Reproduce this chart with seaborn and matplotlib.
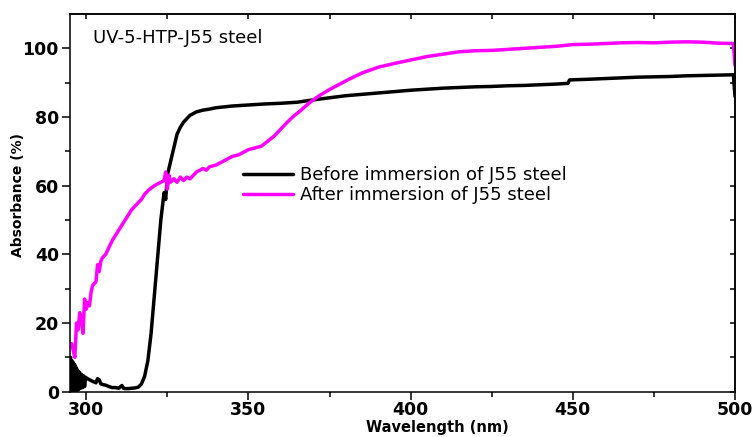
import numpy as np
import pandas as pd
import matplotlib
matplotlib.use("Agg")
import matplotlib.pyplot as plt
import seaborn as sns

# ---------------- data ----------------
before_x = [295.2, 295.4, 295.6, 295.8, 296.0, 296.2, 296.4, 296.6, 296.8, 297.0,
            297.2, 297.4, 297.6, 297.8, 298.0, 298.3, 298.6, 298.9, 299.2, 299.5,
            299.8, 300.2, 301, 302, 303, 303.5, 304, 304.5, 305, 306, 307, 308, 309,
            310, 311, 311.5, 312, 313, 314, 315, 316, 317, 318, 319, 320, 321, 322,
            323, 324, 324.5, 325, 326, 327, 328, 329, 330, 331, 332, 334, 336, 338,
            340, 345, 350, 355, 360, 365, 370, 375, 380, 385, 390, 395, 400, 405,
            410, 415, 420, 425, 430, 435, 440, 445, 448.5, 449, 455, 460, 465, 470,
            475, 480, 485, 490, 495, 499.5, 500]
before_y = [10, 0.5, 9, 0.3, 8.5, 0.3, 8, 0.5, 7.2, 0.5,
            6.5, 0.5, 6, 0.8, 5.5, 1, 5, 1.2, 4.6, 1.5,
            4.2, 3.9, 3.5, 3.0, 2.6, 3.8, 3.5, 2.3, 2.1, 1.9, 1.5, 1.2, 1.2,
            1.0, 1.8, 1.0, 0.9, 0.9, 1.0, 1.1, 1.3, 2.2, 4.5, 9, 17, 28, 39,
            50, 58, 56, 63, 67, 71, 75, 77, 78.5, 79.5, 80.5, 81.5, 82, 82.3,
            82.7, 83.2, 83.5, 83.8, 84, 84.3, 85, 85.6, 86.2, 86.6, 87, 87.4, 87.8, 88.1,
            88.4, 88.6, 88.8, 88.9, 89.1, 89.2, 89.4, 89.6, 89.8, 90.8, 91, 91.2, 91.4, 91.6,
            91.7, 91.8, 92, 92.1, 92.2, 92.3, 86]

after_x = [295.5, 296, 296.5, 297, 297.5, 298, 298.5, 299, 299.5, 300, 300.5, 301,
           301.5, 302, 303, 303.5, 304, 304.5, 305, 306, 307, 308, 309, 310, 311,
           312, 313, 314, 315, 316, 317, 318, 319, 320, 321, 322, 323, 324, 324.5,
           325, 325.5, 326, 327, 328, 329, 330, 331, 332, 333, 334, 335, 336, 337,
           338, 340, 342, 345, 347, 350, 352, 354, 356, 358, 360, 362, 364, 366,
           368, 370, 372, 375, 378, 381, 385, 390, 395, 400, 405, 410, 415, 420,
           425, 430, 435, 440, 445, 450, 455, 460, 465, 470, 475, 480, 485, 490,
           495, 499.5, 500]
after_y = [14, 12, 10, 20, 18, 23, 21, 17, 27, 24, 26, 25,
           29, 31, 32, 37, 35, 38, 39, 40, 42, 44, 45.5, 47, 48.5,
           50, 51.5, 53, 54, 55, 56, 57.5, 58.5, 59.3, 60, 60.5, 61, 61.5, 64,
           59, 63, 61, 62, 61, 62.5, 61.5, 62.5, 62, 63, 64, 64.5, 65, 64.5,
           65.5, 66, 67, 68.5, 69, 70.5, 71, 71.5, 73, 74.5, 76.5, 78.5, 80.3, 81.8,
           83.5, 85, 86.3, 88, 89.5, 91, 92.8, 94.5, 95.6, 96.6, 97.6, 98.3, 99, 99.3,
           99.4, 99.7, 100, 100.3, 100.6, 101.1, 101.2, 101.4, 101.6, 101.7, 101.6, 101.8, 101.9, 101.8,
           101.5, 101.4, 95]

series_names = ["Before immersion of J55 steel", "After immersion of J55 steel"]
series_colors = ["#000000", "#FF00FF"]
x_ticks = [300, 350, 400, 450, 500]
y_ticks = [0, 20, 40, 60, 80, 100]
annotation = "UV-5-HTP-J55 steel"
x_label = "Wavelength (nm)"
y_label = "Absorbance (%)"

df = pd.concat([
    pd.DataFrame({"Wavelength": before_x, "Absorbance": before_y, "Sample": series_names[0]}),
    pd.DataFrame({"Wavelength": after_x, "Absorbance": after_y, "Sample": series_names[1]}),
], ignore_index=True)

# ---------------- figure ----------------
sns.set_theme(style="ticks")
plt.rcParams["font.family"] = ["DejaVu Sans"]
plt.rcParams["text.color"] = "black"
plt.rcParams["axes.labelcolor"] = "black"
plt.rcParams["xtick.color"] = "black"
plt.rcParams["ytick.color"] = "black"
plt.rcParams["axes.edgecolor"] = "black"

fig = plt.figure(figsize=(7.54, 4.37), dpi=100)
ax = fig.add_axes([70 / 754, (437 - 391.7) / 437, (735 - 70) / 754, (391.7 - 14) / 437])

sns.lineplot(data=df, x="Wavelength", y="Absorbance", hue="Sample",
             palette=dict(zip(series_names, series_colors)), linewidth=2.5,
             estimator=None, sort=False, ax=ax)

ax.set_xlim(295, 500)
ax.set_ylim(0, 110)

for s in ax.spines.values():
    s.set_linewidth(1.1)
    s.set_color("black")
    s.set_visible(True)

ax.set_xticks(x_ticks)
ax.set_xticks(np.arange(325, 500, 50), minor=True)
ax.set_yticks(y_ticks)
ax.set_yticks(np.arange(10, 110, 20), minor=True)
ax.tick_params(which="major", direction="out", length=6, width=1.1, color="black",
               labelcolor="black", labelsize=12.5, pad=2)
ax.tick_params(which="minor", direction="out", length=3.5, width=1.1, color="black")
ax.tick_params(axis="x", which="major", pad=1)
for lab in ax.get_xticklabels() + ax.get_yticklabels():
    lab.set_fontweight("bold")
    lab.set_color("black")

# mirrored inward ticks on top/right
top = ax.secondary_xaxis("top")
top.set_xticks(np.arange(300, 501, 25))
top.tick_params(direction="in", length=3.5, width=1.1, labeltop=False, color="black")
top.spines["top"].set_linewidth(1.1)
right = ax.secondary_yaxis("right")
right.set_yticks(np.arange(0, 111, 10))
right.tick_params(direction="in", length=3.5, width=1.1, labelright=False, color="black")
right.spines["right"].set_linewidth(1.1)

ax.set_xlabel(x_label, fontsize=10.5, fontweight="bold", color="black")
ax.xaxis.set_label_coords(0.553, -0.0755)
ax.set_ylabel(y_label, fontsize=10, fontweight="bold", color="black")
ax.yaxis.set_label_coords(-0.0677, 0.521)

ax.text(0.0346, 0.924, annotation, transform=ax.transAxes, fontsize=13,
        va="baseline", ha="left", color="black")

leg = ax.legend(loc="center left", bbox_to_anchor=(0.260, 0.547), frameon=False,
                fontsize=13, handlelength=2.77, handletextpad=0.39,
                labelspacing=0.08, borderpad=0, borderaxespad=0, title=None)
for line in leg.get_lines():
    line.set_linewidth(2.5)
for t in leg.get_texts():
    t.set_color("black")

fig.savefig("out.png", dpi=100)
